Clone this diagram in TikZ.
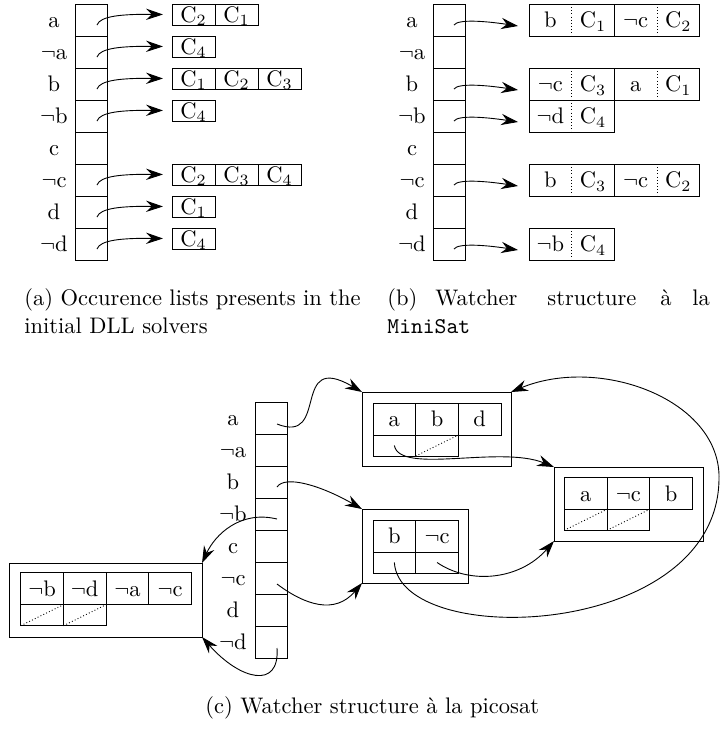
\documentclass[tikz,border=0pt]{standalone}
\usetikzlibrary{arrows.meta}
\tikzset{
  box/.style={draw, line width=0.4pt, inner sep=0pt, outer sep=0pt},
  lbl/.style={inner sep=0pt, text height=7pt, text depth=0pt},
  arr/.style={line width=0.4pt, -{Stealth[length=7.5pt,width=5pt,inset=2.5pt]}},
  dotline/.style={densely dotted, line width=0.4pt},
  colcell/.style={box, minimum width=14.22pt, minimum height=14.22pt},
  captxt/.style={anchor=base west, inner sep=0pt},
}
\begin{document}
\begin{tikzpicture}[x=0.4444pt,y=-0.4444pt]
\useasboundingbox (0,0) rectangle (723,733);

% ---------- (a) occurrence lists ----------
\foreach \lab [count=\i] in {a,$\neg$a,b,$\neg$b,c,$\neg$c,d,$\neg$d}{
  \node[colcell] (ac\i) at (91.5,{32*\i-12}) {};
  \node[lbl] (al\i) at (54,{32*\i-12}) {\lab};
}
\foreach \row/\items in {1/{2,1},2/{4},3/{1,2,3},4/{4},6/{2,3,4},7/{1},8/{4}}{
  \foreach \c [count=\k] in \items {
    \node[box,lbl,minimum width=19.11pt,minimum height=9.33pt] (aL\row-\k)
      at ({150.5+43*\k},{32*\row-17.5}) {$\mathrm{C}_{\c}$};
  }
  \coordinate (as\row) at (97,{32*\row-7});
  \draw[arr] (as\row) .. controls (100,{32*\row-16}) and (122,{32*\row-18}) .. ([xshift=-4pt]aL\row-1.west);
}

% ---------- (b) MiniSat watchers ----------
\foreach \lab [count=\i] in {a,$\neg$a,b,$\neg$b,c,$\neg$c,d,$\neg$d}{
  \node[colcell] (bc\i) at (449,{32*\i-12}) {};
  \node[lbl] (bl\i) at (412,{32*\i-12}) {\lab};
}
\foreach \row/\k/\lit/\cl in {1/1/b/1, 1/2/$\neg$c/2, 3/1/$\neg$c/3, 3/2/a/1, 4/1/$\neg$d/4, 6/1/b/3, 6/2/$\neg$c/2, 8/1/$\neg$b/4}{
  \node[box, minimum width=37.91pt, minimum height=14.22pt] (bw\row-\k)
    at ({571.7+85.3*(\k-1)},{32*\row-12}) {};
  \draw[dotline] (bw\row-\k.north) -- (bw\row-\k.south);
  \node[lbl] (bx\row-\k) at ([xshift=-9.48pt]bw\row-\k.center) {\lit};
  \node[lbl] (by\row-\k) at ([xshift=9.48pt]bw\row-\k.center) {$\mathrm{C}_{\cl}$};
}
\foreach \row in {1,3,4,6,8}{
  \coordinate (bs\row) at (454,{32*\row-7});
  \draw[arr] (bs\row) .. controls (458,{32*\row-13}) and (485,{32*\row-11}) .. ([xshift=-4.9pt,yshift=-2.67pt]bw\row-1.west);
}

% ---------- captions (a) and (b) ----------
\node[captxt] (capa1) at (24,305.5) {(a) Occurence lists presents in the};
\node[captxt] (capa2) at (24,333.5) {initial DLL solvers};
\node[captxt] (capb1) at (387,305.5) {(b)};
\node[captxt] (capb2) at (435,305.5) {Watcher};
\node[captxt] (capb3) at (547,305.5) {structure};
\node[captxt] (capb4) at (660,305.5) {à};
\node[captxt] (capb5) at (692,305.5) {la};
\node[captxt] (capb6) at (387,333.5) {\texttt{MiniSat}};

% ---------- (c) picosat watchers ----------
\foreach \lab [count=\i] in {a,$\neg$a,b,$\neg$b,c,$\neg$c,d,$\neg$d}{
  \node[colcell] (cc\i) at (271,{386+32*\i}) {};
  \node[lbl] (cl\i) at (233,{386+32*\i}) {\lab};
}
% outer clause frames
\node[box, anchor=north west, minimum width=66.22pt, minimum height=32.89pt] (B1) at (362,392) {};
\node[box, anchor=north west, minimum width=47.11pt, minimum height=32.89pt] (B2) at (362,509) {};
\node[box, anchor=north west, minimum width=66.22pt, minimum height=32.89pt] (B3) at (554,467) {};
\node[box, anchor=north west, minimum width=85.78pt, minimum height=32.89pt] (B4) at (9,563) {};
% literal cells and watch cells
\foreach \b/\X/\Y/\lits in {1/373/403/{a,b,d}, 2/373/520/{b,$\neg$c}, 3/564.3/477.3/{a,$\neg$c,b}, 4/20.7/572.7/{$\neg$b,$\neg$d,$\neg$a,$\neg$c}}{
  \foreach \l [count=\k] in \lits {
    \node[box,lbl,minimum width=18.96pt,minimum height=14.22pt] (T\b-\k)
      at ({\X+21.35+42.7*(\k-1)},{\Y+16}) {\l};
  }
  \foreach \k in {1,2}{
    \node[box,minimum width=18.96pt,minimum height=9.33pt] (U\b-\k)
      at ({\X+21.35+42.7*(\k-1)},{\Y+42.5}) {};
  }
}
\foreach \n in {U1-2,U3-1,U3-2,U4-1,U4-2}{
  \draw[dotline] (\n.south west) -- (\n.north east);
}
% pointers
\coordinate (cs1) at (277,424);
\coordinate (cs3) at (277,487);
\coordinate (cs4) at (277,519);
\coordinate (cs6) at (277,584);
\coordinate (cs8) at (277,648);
\coordinate (loop) at (719,480);
\draw[arr] (cs1) .. controls (330,445) and (290,350) .. (B1.north west);
\draw[arr] (cs3) .. controls (285,475) and (320,485) .. (B2.north west);
\draw[arr] (cs4) .. controls (240,510) and (215,535) .. (B4.north east);
\draw[arr] (cs6) .. controls (305,605) and (335,615) .. (B2.south west);
\draw[arr] (cs8) .. controls (280,690) and (240,680) .. (B4.south east);
\draw[arr] (U1-1.center) .. controls (400,475) and (500,445) .. (B3.north west);
\draw[arr] (U2-2.center) .. controls (470,585) and (520,580) .. (B3.south west);
\draw[arr] (U2-1.center) .. controls (400,650) and (716,640) .. (loop)
  .. controls (722,400) and (600,355) .. (B1.north east);

\node[captxt] (capc) at (205,713) {(c) Watcher structure à la picosat};
\end{tikzpicture}
\end{document}
